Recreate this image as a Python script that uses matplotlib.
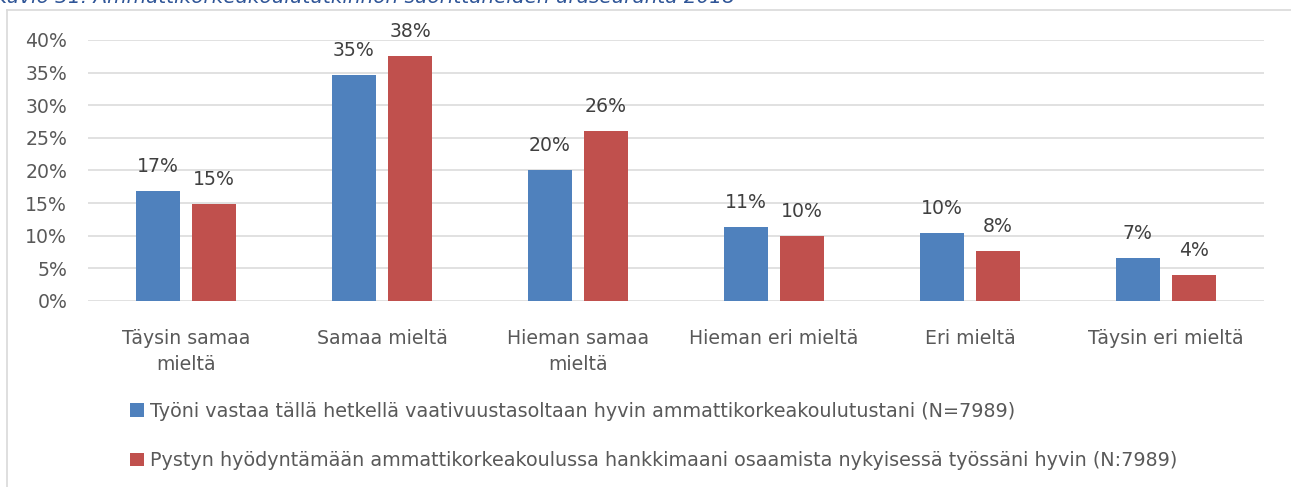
import numpy as np
import matplotlib.pyplot as plt
from matplotlib.lines import Line2D
from matplotlib.patches import Patch

# ========= DATA =========
categories = ["Täysin samaa\nmieltä", "Samaa mieltä", "Hieman samaa\nmieltä",
              "Hieman eri mieltä", "Eri mieltä", "Täysin eri mieltä"]
tyo_vastaa = [16.8, 34.7, 20.1, 11.4, 10.4, 6.6]
hyodynnan = [14.9, 37.5, 26.1, 10.0, 7.7, 4.0]
series_names = ["Työni vastaa tällä hetkellä vaativuustasoltaan hyvin ammattikorkeakoulutustani (N=7989)",
                "Pystyn hyödyntämään ammattikorkeakoulussa hankkimaani osaamista nykyisessä työssäni hyvin (N:7989)"]
yticks = [0, 5, 10, 15, 20, 25, 30, 35, 40]
caption = "Kuvio 31. Ammattikorkeakoulututkinnon suorittaneiden uraseuranta 2018"

# ========= STYLE =========
plt.rcParams['font.family'] = ['DejaVu Sans']
BLUE = "#4f81bd"
RED = "#c0504d"
GRID = "#d9d9d9"
TXT = "#595959"
FS = 13.6

fig = plt.figure(figsize=(12.91, 4.87), dpi=100)
ax = fig.add_axes([0.0682, 0.382, 0.9108, 0.536])

x = np.arange(len(categories))
w = 0.224
off = 0.143
b1 = ax.bar(x - off, tyo_vastaa, w, color=BLUE, zorder=3)
b2 = ax.bar(x + off, hyodynnan, w, color=RED, zorder=3)

for bars, vals in [(b1, tyo_vastaa), (b2, hyodynnan)]:
    for b, v in zip(bars, vals):
        ax.text(b.get_x() + b.get_width() / 2, v + 2.3, f"{v:.0f}%",
                ha="center", va="bottom", fontsize=FS, color="#404040")

ax.set_xlim(-0.5, len(categories) - 0.5)
ax.set_ylim(0, 40)
ax.set_yticks(yticks)
ax.set_yticklabels([f"{t}%" for t in yticks])
ax.set_xticks(x)
ax.set_xticklabels(categories, linespacing=1.5)
ax.tick_params(length=0, labelsize=FS, labelcolor=TXT)
ax.tick_params(axis="y", pad=15)
ax.tick_params(axis="x", pad=20)
ax.yaxis.grid(True, color=GRID, linewidth=1.1, zorder=0)
for s in ax.spines.values():
    s.set_visible(False)

# legend
handles = [Patch(facecolor=BLUE), Patch(facecolor=RED)]
fig.legend(handles, series_names, loc="center left", bbox_to_anchor=(0.0875, 0.105),
           frameon=False, fontsize=13.8, labelcolor=TXT, handlelength=0.72,
           handleheight=0.72, handletextpad=0.3, labelspacing=1.6)

# chart border (top and left edge) and cut-off caption
fig.add_artist(Line2D([7 / 1291, 1.0], [1 - 10 / 487] * 2, transform=fig.transFigure,
                      color=GRID, linewidth=1.2))
fig.add_artist(Line2D([7 / 1291] * 2, [0.0, 1 - 10 / 487], transform=fig.transFigure,
                      color=GRID, linewidth=1.2))
fig.text(-0.005, 1 - 3 / 487, caption, ha="left", va="baseline", fontsize=14.4,
         style="italic", color="#2f5597")

fig.savefig("out.png", dpi=100)
